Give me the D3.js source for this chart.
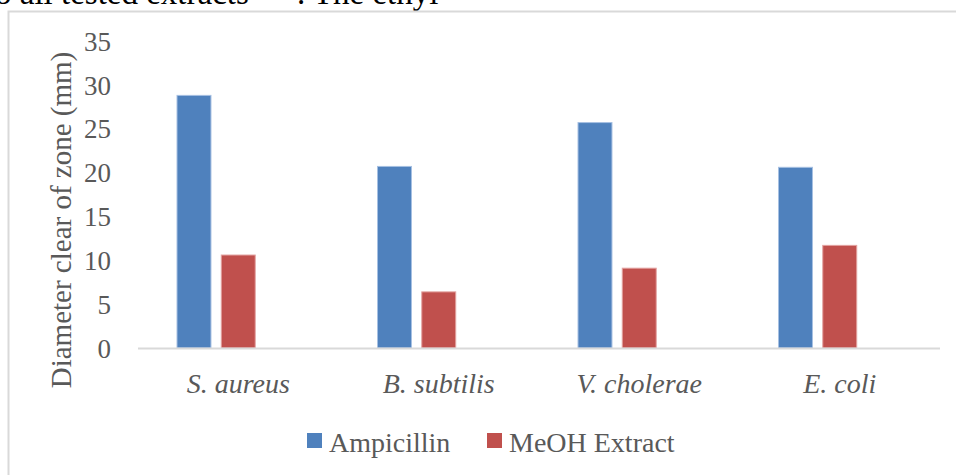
<!DOCTYPE html>
<html>
<head>
<meta charset="utf-8">
<script src="https://cdn.jsdelivr.net/npm/d3@7"></script>
<style>
    body { margin: 0; background: #fff; }
    svg { display: block; }
    svg text { font-family: "Liberation Serif", "Times New Roman", serif; }
</style>
</head>
<body>
<div id="chart"></div>
<script>
const bacteria = ["S. aureus", "B. subtilis", "V. cholerae", "E. coli"];
const ampicillin = [28.8, 20.7, 25.7, 20.6];
const meohExtract = [10.6, 6.4, 9.1, 11.7];
const seriesNames = ["Ampicillin", "MeOH Extract"];
const yTicks = [0, 5, 10, 15, 20, 25, 30, 35];

const colors = { "Ampicillin": "#4f81bd", "MeOH Extract": "#c0504d" };
const edges = { "Ampicillin": "#a6c0e2", "MeOH Extract": "#e3a3a1" };

const width = 956, height = 475;
const margin = { top: 41, right: 16, bottom: 127, left: 138 };
const serif = "Liberation Serif, Times New Roman, serif";

const svg = d3.select("#chart").append("svg")
    .attr("width", width)
    .attr("height", height);

// bit of the page text above the chart box
svg.append("text").attr("x", -5).attr("y", 4).attr("font-size", 33).attr("fill", "#000")
    .text("o all tested extracts");
svg.append("text").attr("x", 297).attr("y", 4).attr("font-size", 33).attr("fill", "#000")
    .text(". The ethyl");

// chart box (only top and left edges visible)
svg.append("path")
    .attr("d", `M8.5,${height} V11.5 H${width}`)
    .attr("fill", "none")
    .attr("stroke", "#d9d9d9")
    .attr("stroke-width", 2);

const x0 = d3.scaleBand()
    .domain(bacteria)
    .range([margin.left, width - margin.right]);

// three slots per group, the last one stays empty as in the original
const x1 = d3.scaleBand()
    .domain([0, 1, 2])
    .range([0, x0.bandwidth()])
    .paddingInner(0.21)
    .paddingOuter(0.87);

const y = d3.scaleLinear()
    .domain([0, 35])
    .range([height - margin.bottom, margin.top]);

const yAxis = d3.axisLeft(y).tickValues(yTicks).tickSize(0).tickPadding(0);
svg.append("g")
    .attr("transform", `translate(111,0)`)
    .call(yAxis)
    .call(g => g.select(".domain").remove())
    .attr("font-family", serif)
    .selectAll("text")
    .attr("font-size", 27)
    .attr("fill", "#595959")
    .attr("dy", "0.34em");

svg.append("text")
    .attr("transform", `translate(71,${(52 + 388) / 2}) rotate(-90)`)
    .attr("text-anchor", "middle")
    .attr("font-size", 29)
    .attr("fill", "#595959")
    .text("Diameter clear of zone (mm)");

const rows = bacteria.map((b, i) => ({ name: b, values: [ampicillin[i], meohExtract[i]] }));

const groups = svg.selectAll(".group")
    .data(rows)
    .enter().append("g")
    .attr("class", "group")
    .attr("transform", d => `translate(${x0(d.name)},0)`);

groups.selectAll("rect")
    .data(d => d.values.map((v, i) => ({ series: seriesNames[i], idx: i, value: v })))
    .enter().append("rect")
    .attr("x", d => x1(d.idx) + 0.5)
    .attr("width", x1.bandwidth() - 1)
    .attr("y", d => y(d.value))
    .attr("height", d => y(0) - y(d.value))
    .attr("fill", d => colors[d.series])
    .attr("stroke", d => edges[d.series])
    .attr("stroke-width", 1);

// x axis baseline
svg.append("line")
    .attr("x1", margin.left).attr("x2", width - margin.right)
    .attr("y1", y(0) + 0.5).attr("y2", y(0) + 0.5)
    .attr("stroke", "#d9d9d9")
    .attr("stroke-width", 2);

svg.selectAll(".xlabel")
    .data(bacteria)
    .enter().append("text")
    .attr("class", "xlabel")
    .attr("x", d => x0(d) + x0.bandwidth() / 2)
    .attr("y", 393)
    .attr("text-anchor", "middle")
    .attr("font-size", 28)
    .attr("font-style", "italic")
    .attr("fill", "#595959")
    .text(d => d);

// legend
const legendX = [307, 487];
const legend = svg.selectAll(".legend")
    .data(seriesNames)
    .enter().append("g")
    .attr("class", "legend")
    .attr("transform", (d, i) => `translate(${legendX[i]},433)`);

legend.append("rect")
    .attr("width", 15)
    .attr("height", 15)
    .attr("fill", d => colors[d]);

legend.append("text")
    .attr("x", 22)
    .attr("y", 19)
    .attr("font-size", 28)
    .attr("fill", "#595959")
    .text(d => d);
</script>
</body>
</html>
